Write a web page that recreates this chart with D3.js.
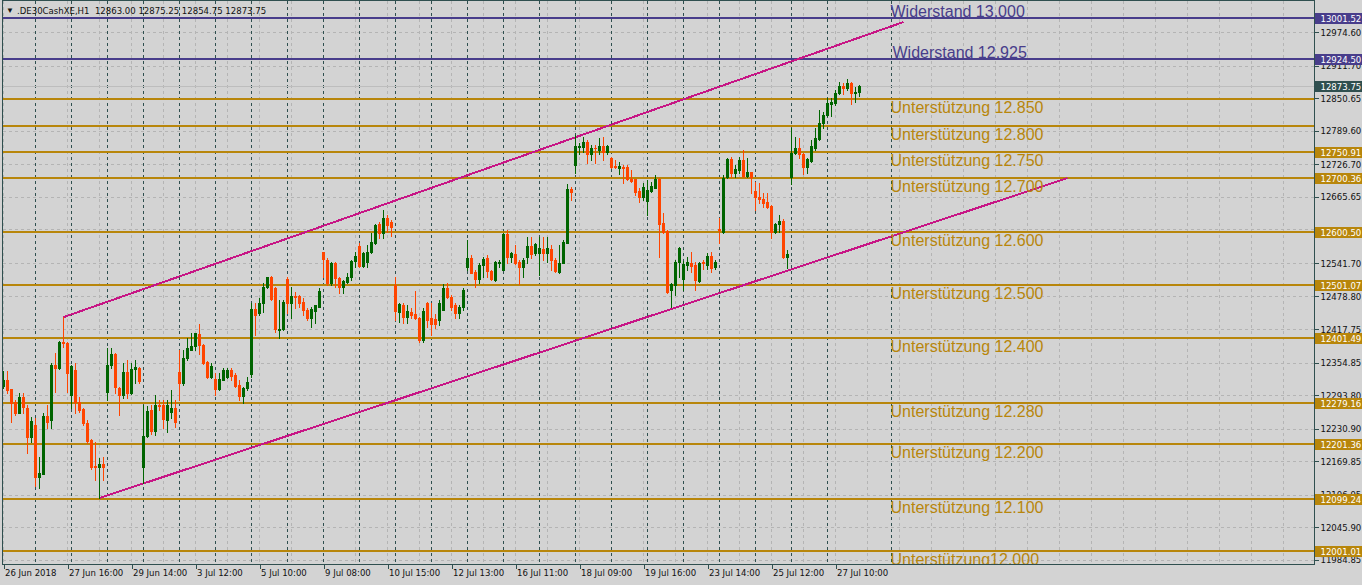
<!DOCTYPE html>
<html><head><meta charset="utf-8">
<script src="https://cdn.jsdelivr.net/npm/d3@7"></script>
<style>html,body{margin:0;padding:0;background:#D3D3D3;}svg{display:block;}</style>
</head><body><svg id="c" width="1362" height="585"></svg>
<script>
// ---------- DATA ----------
const headerText = ".DE30CashXE,H1  12863.00 12875.25 12854.75 12873.75";
const opens = [12310,12322,12305,12281,12260,12290,12270,12215,12238,12140,12146,12255,12247,12350,12345,12394,12392,12294,12341,12281,12268,12241,12209,12160,12159,12164,
12300,12350,12371,12307,12294,12337,12298,12343,12345,12159,12217,12266,12226,12275,12275,12247,12262,12270,12337,12316,12363,12378,12386,12408,12388,12356,12328,12324,12305,12322,12328,12341,12331,12313,12292,12307,
12333,12455,12448,12467,12497,12515,12495,12416,12418,12512,12467,12480,12480,12468,12453,12438,12452,12459,12562,12547,12504,12542,12514,12497,12506,12515,12545,12574,12536,12544,12562,12579,12615,12598,12626,12619,
12500,12450,12463,12440,12450,12446,12438,12397,12467,12438,12437,12435,12453,12495,12478,12463,12448,12459,12534,12551,12525,12512,12538,12551,12527,12510,12542,12529,12596,12553,12559,12544,12534,12553,12574,12560,12560,12568,12560,12568,12547,12525,12542,12579,12681,
12726,12760,12759,12769,12746,12758,12754,12761,12750,12739,12723,12720,12721,12722,12699,12699,12677,12666,12658,12677,12682,12699,12617,12602,12491,12500,12544,12512,12538,12542,12538,12508,12543,12538,12555,12534,
12605,12600,12703,12737,12711,12716,12735,12705,12712,12677,12666,12662,12656,12649,12600,12615,12621,12553,
12703,12748,12758,12746,12722,12733,12758,12774,12804,12819,12840,12842,12861,12874,12870,12880,12861,12863];
const highs = [12338,12338,12306,12285,12297,12297,12275,12253,12251,12178,12260,12275,12354,12373,12395,12440,12393,12350,12354,12290,12270,12247,12211,12206,12176,12178,
12382,12382,12372,12309,12354,12360,12354,12360,12346,12275,12273,12275,12294,12285,12285,12285,12303,12285,12378,12378,12400,12410,12411,12427,12389,12357,12354,12335,12335,12345,12344,12345,12335,12322,12309,12328,
12467,12467,12476,12504,12516,12517,12497,12472,12472,12515,12497,12488,12482,12476,12457,12459,12463,12495,12563,12551,12544,12544,12515,12510,12523,12547,12562,12579,12562,12576,12598,12614,12619,12641,12632,12622,
12515,12467,12467,12463,12457,12489,12440,12457,12468,12467,12445,12472,12502,12504,12482,12467,12463,12495,12585,12557,12529,12542,12553,12557,12529,12545,12547,12598,12604,12562,12576,12547,12551,12591,12591,12579,12591,12591,12591,12576,12551,12576,12585,12690,12684,
12782,12767,12778,12773,12763,12763,12776,12778,12763,12741,12735,12731,12726,12726,12716,12699,12682,12692,12697,12694,12707,12701,12636,12604,12504,12547,12572,12545,12553,12562,12544,12544,12547,12560,12562,12547,
12626,12707,12739,12741,12726,12741,12754,12739,12713,12694,12692,12673,12673,12651,12617,12632,12624,12566,
12795,12778,12776,12748,12739,12773,12795,12829,12825,12851,12851,12866,12881,12880,12887,12881,12872,12875.25];
const lows = [12307,12297,12244,12256,12260,12260,12185,12206,12123,12119,12146,12232,12232,12300,12343,12384,12300,12270,12260,12262,12238,12204,12155,12134,12101,12134,
12284,12345,12298,12256,12288,12288,12296,12316,12316,12129,12215,12220,12218,12266,12232,12224,12251,12234,12285,12313,12360,12378,12378,12371,12353,12326,12326,12294,12303,12322,12325,12322,12309,12285,12279,12303,
12328,12407,12444,12450,12495,12472,12412,12401,12416,12448,12438,12457,12459,12444,12435,12422,12429,12459,12515,12500,12500,12497,12485,12485,12504,12510,12534,12534,12534,12534,12560,12578,12589,12589,12600,12592,
12435,12431,12429,12429,12438,12436,12393,12393,12422,12407,12420,12425,12453,12476,12453,12438,12438,12453,12529,12523,12497,12504,12515,12515,12510,12508,12534,12528,12542,12544,12540,12502,12515,12542,12551,12557,12519,12547,12544,12529,12525,12523,12541,12579,12660,
12711,12746,12750,12729,12735,12729,12746,12735,12746,12720,12720,12709,12692,12697,12694,12669,12656,12660,12632,12675,12682,12553,12598,12485,12459,12482,12515,12491,12529,12525,12491,12506,12530,12530,12525,12530,
12579,12598,12701,12703,12703,12710,12703,12703,12673,12641,12654,12647,12645,12589,12598,12600,12551,12532,
12690,12746,12739,12709,12711,12731,12754,12773,12795,12817,12817,12838,12859,12859,12866,12840,12844,12854.75];
const closes = [12322,12303,12279,12260,12290,12271,12215,12245,12140,12148,12255,12243,12350,12345,12393,12392,12335,12348,12281,12266,12241,12208,12159,12159,12164,12159,
12350,12371,12309,12294,12337,12298,12343,12347,12320,12217,12264,12226,12275,12273,12249,12275,12270,12243,12316,12363,12382,12386,12410,12388,12354,12328,12348,12305,12324,12341,12341,12330,12311,12292,12307,12318,
12455,12444,12467,12497,12515,12474,12418,12418,12468,12467,12480,12478,12467,12453,12438,12455,12463,12489,12549,12504,12542,12514,12497,12508,12515,12545,12555,12536,12560,12562,12581,12613,12598,12626,12613,12609,
12452,12465,12440,12452,12444,12438,12397,12452,12435,12427,12427,12467,12495,12478,12459,12448,12459,12491,12551,12523,12512,12538,12549,12527,12512,12544,12543,12596,12553,12560,12542,12534,12547,12574,12559,12577,12570,12560,12570,12547,12527,12542,12581,12681,12675,
12761,12761,12769,12746,12758,12757,12761,12750,12761,12722,12722,12724,12720,12699,12696,12675,12666,12684,12679,12686,12699,12615,12600,12487,12502,12544,12570,12540,12544,12536,12510,12542,12541,12555,12532,12544,
12604,12701,12737,12711,12718,12735,12705,12712,12703,12666,12662,12654,12647,12600,12615,12621,12553,12559,
12748,12758,12746,12722,12737,12761,12776,12804,12819,12842,12844,12861,12874,12870,12880,12861,12863,12873.75];
const timeLabels = ["26 Jun 2018","27 Jun 16:00","29 Jun 14:00","3 Jul 12:00","5 Jul 10:00","9 Jul 08:00","10 Jul 15:00",
  "12 Jul 13:00","16 Jul 11:00","18 Jul 09:00","19 Jul 16:00","23 Jul 14:00","25 Jul 12:00","27 Jul 10:00"];
const barsPerLabel = 16;
const daySeparators = [8,17,26,35,44,53,62,71,80,89,98,107,116,125,134,143,152,161,170,179,188,197,206,222];
const priceTicks = [12974.60,12911.70,12850.65,12789.60,12726.70,12665.65,12604.60,12541.70,12478.80,12417.75,
  12354.85,12293.80,12230.90,12169.85,12106.95,12045.90,11984.85];
const levelPrices = [13001.52,12924.50,12849.0,12799.5,12750.91,12700.36,12600.50,12501.07,12401.49,12279.16,12201.36,12099.24,12001.01];
const levelTexts = ["Widerstand 13.000","Widerstand 12.925","Unterstützung 12.850","Unterstützung 12.800","Unterstützung 12.750",
  "Unterstützung 12.700","Unterstützung 12.600","Unterstützung 12.500","Unterstützung 12.400","Unterstützung 12.280",
  "Unterstützung 12.200","Unterstützung 12.100","Unterstützung12.000"];
const levelIsResistance = [true,true,false,false,false,false,false,false,false,false,false,false,false];
const levelHasTag = [true,true,false,false,true,true,true,true,true,true,true,true,true];
const levelTextBar = 222;
const channelUpper = [[15,12440],[225,12994]];
const channelLower = [[24,12100.6],[266,12701]];
const lastPrice = 12873.75;

// ---------- DRAW ----------
const W = 1362, H = 585, PL = 2.5, PR = 1314.5, PT = 0.5, PB = 564.5;
const FONT = '"DejaVu Sans Condensed","DejaVu Sans",sans-serif';
const BG = '#D3D3D3', GRID = '#B4B4B4', SEP = '#2F4F4F', AXIS = '#2F4F4F';
const GOLD = '#B8860B', RES = '#483D8B', MAG = '#C71585';
const BULL = '#006400', BEAR = '#FF4500';

const svg = d3.select('#c');
svg.append('rect').attr('width', W).attr('height', H).attr('fill', BG);

const x = d3.scaleLinear().domain([0, 1]).range([3.5, 7.5]);
const y = d3.scaleLinear().domain([11974.8, 13035.3]).range([565, 0]);
const yc = p => Math.round(y(p)) + 0.5;

svg.append('defs').append('clipPath').attr('id', 'pc')
  .append('rect').attr('x', PL).attr('y', PT).attr('width', PR - PL).attr('height', PB - PT);
const g = svg.append('g').attr('clip-path', 'url(#pc)');

// grid
const hg = g.append('g').attr('shape-rendering', 'crispEdges');
priceTicks.forEach(p => hg.append('line').attr('x1', PL).attr('x2', PR).attr('y1', yc(p)).attr('y2', yc(p))
  .attr('stroke', GRID).attr('stroke-dasharray', '3,3'));
d3.range(0, 330, 8).forEach(i => hg.append('line').attr('x1', x(i)).attr('x2', x(i)).attr('y1', PT).attr('y2', PB)
  .attr('stroke', GRID).attr('stroke-dasharray', '3,3'));
daySeparators.forEach(i => hg.append('line').attr('x1', x(i)).attr('x2', x(i)).attr('y1', PT).attr('y2', PB)
  .attr('stroke', SEP).attr('stroke-dasharray', '3,3'));

// bid line
g.append('line').attr('x1', PL).attr('x2', PR).attr('y1', yc(lastPrice)).attr('y2', yc(lastPrice))
  .attr('stroke', '#BDBDBD').attr('shape-rendering', 'crispEdges');

// level lines
const lv = g.append('g').attr('shape-rendering', 'crispEdges');
levelPrices.forEach((p, k) => {
  const yy = Math.round(y(p));
  lv.append('line').attr('x1', PL).attr('x2', PR).attr('y1', yy).attr('y2', yy)
    .attr('stroke', levelIsResistance[k] ? RES : GOLD).attr('stroke-width', 2);
});

// channel lines
[channelUpper, channelLower].forEach(c => {
  g.append('line').attr('x1', x(c[0][0])).attr('y1', y(c[0][1])).attr('x2', x(c[1][0])).attr('y2', y(c[1][1]))
    .attr('stroke', MAG).attr('stroke-width', 2).attr('shape-rendering', 'crispEdges');
});

// level texts
levelPrices.forEach((p, k) => {
  const yy = y(p);
  g.append('text').attr('x', x(levelTextBar) - 1 + (k === 1 ? 2 : 0)).attr('y', levelIsResistance[k] ? yy - 1 : yy + 14)
    .attr('font-family', '"Liberation Sans",Arial,sans-serif').attr('font-size', 16)
    .attr('fill', levelIsResistance[k] ? RES : GOLD).text(levelTexts[k]);
});

// candles
const cg = g.append('g').attr('shape-rendering', 'crispEdges');
opens.forEach((o, i) => {
  const c = closes[i], up = c >= o, col = up ? BULL : BEAR;
  cg.append('line').attr('x1', x(i)).attr('x2', x(i))
    .attr('y1', Math.round(y(highs[i]))).attr('y2', Math.round(y(lows[i])) + 1).attr('stroke', col);
  const t = Math.round(y(Math.max(o, c))), b = Math.round(y(Math.min(o, c)));
  cg.append('rect').attr('x', x(i) - 1.5).attr('y', t).attr('width', 3).attr('height', Math.max(1, b - t + 1))
    .attr('fill', col);
});

// borders
const bd = svg.append('g').attr('stroke', AXIS).attr('shape-rendering', 'crispEdges');
bd.append('line').attr('x1', PL).attr('x2', PL).attr('y1', 0).attr('y2', PB);
bd.append('line').attr('x1', PL).attr('x2', PR).attr('y1', PT).attr('y2', PT);
bd.append('line').attr('x1', PL).attr('x2', PR).attr('y1', PB).attr('y2', PB);
bd.append('line').attr('x1', PR).attr('x2', PR).attr('y1', 0).attr('y2', PB);

// price tags (their positions hide tick labels that sit right under them)
const tagPrices = levelPrices.filter((p, k) => levelHasTag[k]).concat([lastPrice]);
const hiddenUnderTag = p => tagPrices.some(t => Math.abs(y(t) - y(p)) < 3);

// price axis
const ya = svg.append('g').attr('transform', `translate(${PR},0)`)
  .call(d3.axisRight(y).tickValues(priceTicks)
    .tickFormat(p => hiddenUnderTag(p) ? '' : d3.format('.2f')(p)).tickSize(4).tickPadding(2));
ya.select('.domain').remove();
ya.selectAll('line').attr('stroke', AXIS).attr('shape-rendering', 'crispEdges');
ya.selectAll('text').attr('font-family', FONT).attr('font-size', 9.5).attr('fill', '#111');

// time axis
const xa = svg.append('g').attr('transform', `translate(0,${PB})`)
  .call(d3.axisBottom(x).tickValues(d3.range(0, opens.length, barsPerLabel))
    .tickFormat((d, k) => timeLabels[k]).tickSize(4));
xa.select('.domain').remove();
xa.selectAll('line').attr('stroke', AXIS).attr('shape-rendering', 'crispEdges');
xa.selectAll('text').attr('font-family', FONT).attr('font-size', 9.5).attr('fill', '#111')
  .attr('text-anchor', 'start').attr('x', 1).attr('y', 5).attr('dy', '0.71em');

// price tags on axis
function tag(p, label, col) {
  const yy = Math.round(y(p));
  svg.append('rect').attr('x', PR + 0.5).attr('y', yy - 5).attr('width', W - PR).attr('height', 11)
    .attr('fill', col).attr('shape-rendering', 'crispEdges');
  svg.append('text').attr('x', PR + 6).attr('y', yy + 4).attr('font-family', FONT).attr('font-size', 9.5)
    .attr('fill', '#fff').text(label);
}
levelPrices.forEach((p, k) => { if (levelHasTag[k]) tag(p, p.toFixed(2), levelIsResistance[k] ? RES : GOLD); });
tag(lastPrice, lastPrice.toFixed(2), '#2F4F4F');

// header
svg.append('text').attr('x', 6).attr('y', 13).attr('font-size', 8).attr('fill', '#111').text('▼');
svg.append('text').attr('x', 17).attr('y', 14).attr('font-family', FONT).attr('font-size', 9.5)
  .attr('fill', '#111').attr('xml:space', 'preserve').style('white-space', 'pre').text(headerText);
</script></body></html>
